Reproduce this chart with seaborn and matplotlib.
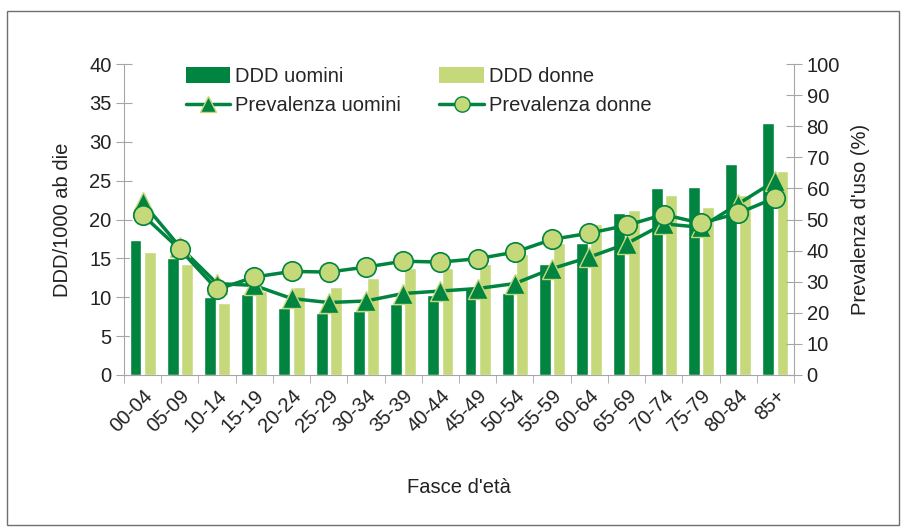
import matplotlib
matplotlib.use("Agg")
import matplotlib.pyplot as plt
import seaborn as sns
import numpy as np
import pandas as pd
from matplotlib.lines import Line2D
from matplotlib.patches import Patch, Rectangle

# dati
fasce = ['00-04', '05-09', '10-14', '15-19', '20-24', '25-29', '30-34', '35-39', '40-44',
         '45-49', '50-54', '55-59', '60-64', '65-69', '70-74', '75-79', '80-84', '85+']
ddd_uomini = [17.4, 15.0, 10.0, 10.4, 8.6, 8.0, 8.2, 9.1, 10.3,
              11.0, 10.6, 14.3, 17.0, 20.9, 24.1, 24.2, 27.1, 32.4]
ddd_donne = [15.8, 14.3, 9.3, 10.8, 11.3, 11.3, 12.5, 13.8, 13.8,
             14.3, 15.5, 17.0, 19.4, 21.2, 23.1, 21.6, 23.2, 26.2]
prev_uomini = [55.5, 41.2, 29.4, 28.8, 24.6, 23.3, 23.8, 26.2, 27.0,
               27.8, 29.4, 34.2, 37.9, 42.2, 48.6, 47.5, 55.0, 62.5]
prev_donne = [51.5, 40.4, 27.5, 31.5, 33.3, 33.1, 34.7, 36.6, 36.3,
              37.4, 39.5, 43.6, 45.6, 48.1, 51.6, 48.8, 52.0, 57.0]

verde = '#00843f'
verde_chiaro = '#c5d97a'
grigio = '#a6a6a6'
testo = '#222222'
fs = 14.5

sns.set_style('white')
plt.rcParams['font.family'] = ['Liberation Sans', 'DejaVu Sans']

df = pd.DataFrame({
    'fascia': fasce * 2,
    'ddd': ddd_uomini + ddd_donne,
    'sesso': ['DDD uomini'] * len(fasce) + ['DDD donne'] * len(fasce),
})

fig = plt.figure(figsize=(9.06, 5.30), dpi=100)
ax = fig.add_axes([124 / 906, 1 - 375 / 530, (794 - 124) / 906, (375 - 64) / 530])

sns.barplot(data=df, x='fascia', y='ddd', hue='sesso', order=fasce,
            palette=[verde, verde_chiaro], width=0.76, gap=0.16,
            saturation=1, legend=False, ax=ax)

ax2 = ax.twinx()
pos = np.arange(len(fasce))
sns.lineplot(x=pos, y=prev_uomini, ax=ax2, color=verde, linewidth=2.5,
             marker='^', markersize=15, markeredgecolor=verde_chiaro,
             markeredgewidth=1, markerfacecolor=verde)
sns.lineplot(x=pos, y=prev_donne, ax=ax2, color=verde, linewidth=2.5,
             marker='o', markersize=14, markeredgecolor=verde,
             markeredgewidth=1.2, markerfacecolor=verde_chiaro)

ax.set_xlim(-0.5, len(fasce) - 0.5)
ax.set_ylim(0, 40)
ax2.set_ylim(0, 100)
ax.set_yticks(range(0, 41, 5))
ax2.set_yticks(range(0, 101, 10))

for a in (ax, ax2):
    for s in a.spines.values():
        s.set_visible(False)
ax.spines['left'].set_visible(True)
ax.spines['left'].set_color(grigio)
ax.spines['bottom'].set_visible(True)
ax.spines['bottom'].set_color(grigio)
ax2.spines['right'].set_visible(True)
ax2.spines['right'].set_color(grigio)

ax.tick_params(axis='y', direction='inout', length=12, color=grigio,
               labelsize=fs, labelcolor=testo, pad=3, left=True)
ax2.tick_params(axis='y', direction='inout', length=12, color=grigio,
                labelsize=fs, labelcolor=testo, pad=3, right=True)

ax.set_xticks(pos)
ax.set_xticklabels(fasce, rotation=45, ha='right', rotation_mode='anchor',
                   fontsize=fs, color=testo)
ax.tick_params(axis='x', which='major', length=0, pad=8)
ax.set_xticks(np.arange(-0.5, len(fasce), 1), minor=True)
ax.tick_params(axis='x', which='minor', length=6, color=grigio, direction='out', bottom=True)

ax.set_xlabel("Fasce d'età", fontsize=fs, color=testo, labelpad=30)
ax.set_ylabel('DDD/1000 ab die', fontsize=fs, color=testo, labelpad=12)
ax2.set_ylabel("Prevalenza d'uso (%)", fontsize=fs, color=testo, labelpad=8)

handles = [
    Patch(facecolor=verde, edgecolor='none'),
    Line2D([], [], color=verde, linewidth=2.5, marker='^', markersize=11,
           markerfacecolor=verde, markeredgecolor=verde_chiaro),
    Patch(facecolor=verde_chiaro, edgecolor='none'),
    Line2D([], [], color=verde, linewidth=2.5, marker='o', markersize=11,
           markerfacecolor=verde_chiaro, markeredgecolor=verde),
]
labels = ['DDD uomini', 'Prevalenza uomini', 'DDD donne', 'Prevalenza donne']
fig.legend(handles, labels, ncol=2, loc='upper left',
           bbox_to_anchor=(186 / 906, 1 - 67 / 530), frameon=False,
           fontsize=fs, handlelength=2.2, handleheight=0.8, handletextpad=0.25,
           columnspacing=1.9, labelspacing=0.52, borderaxespad=0, borderpad=0)

fig.patches.append(Rectangle((7 / 906, 5 / 530), 892 / 906, 514 / 530,
                             transform=fig.transFigure, fill=False,
                             edgecolor='#707070', linewidth=1))

fig.savefig('out.png', dpi=100)
